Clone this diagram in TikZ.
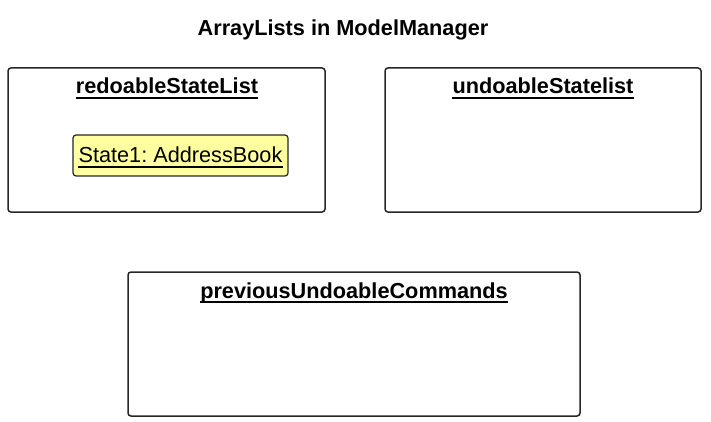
\documentclass[tikz,border=0pt]{standalone}
\usepackage{fontspec}
\setmainfont{Liberation Sans}
\frenchspacing
\begin{document}
\begin{tikzpicture}[x=1pt,y=-1pt,
  frame/.style={draw=black!85, line width=1.5pt, rounded corners=3pt},
  heading/.style={font=\fontsize{21.7}{24}\selectfont\bfseries, inner sep=0pt, anchor=base},
  plain/.style={font=\fontsize{21.7}{24}\selectfont, inner sep=0pt, anchor=base},
  uline/.style={line width=1.8pt}]
\useasboundingbox (0,0) rectangle (711,422);
\node[heading] (title) at (343,36) {ArrayLists in ModelManager};
% boxes
\draw[frame] (8,68) rectangle (325,212);
\draw[frame] (385,68) rectangle (701,212);
\draw[frame] (128,272) rectangle (580,416);
\node[heading] (h1) at (167,94) {redoableStateList};
\draw[uline] ([yshift=-4pt]h1.base west) -- ([yshift=-4pt]h1.base east);
\node[heading] (h2) at (543,94) {undoableStatelist};
\draw[uline] ([yshift=-4pt]h2.base west) -- ([yshift=-4pt]h2.base east);
\node[heading] (h3) at (354,298) {previousUndoableCommands};
\draw[uline] ([yshift=-4pt]h3.base west) -- ([yshift=-4pt]h3.base east);
% state object
\draw[frame, fill={rgb,255:red,255;green,255;blue,160}, line width=1.2pt] (73,135) rectangle (288,176);
\node[plain] (s1) at (180.5,163) {State1: AddressBook};
\draw[line width=1.4pt] ([yshift=-4pt]s1.base west) -- ([yshift=-4pt]s1.base east);
\end{tikzpicture}
\end{document}
